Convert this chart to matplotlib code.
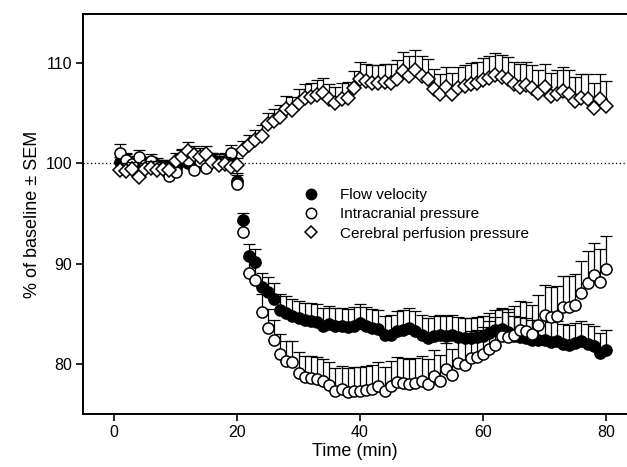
import numpy as np
import matplotlib
matplotlib.use("Agg")
import matplotlib.pyplot as plt
from matplotlib.lines import Line2D

plt.rcParams['font.family'] = ['Liberation Sans', 'DejaVu Sans']

# time points (min)
time = np.arange(1, 81)

flow = [100.1, 100.3, 99.9, 100.1, 99.7, 100.0, 99.8, 99.7, 99.6, 99.5,
        100.2, 100.0, 100.3, 100.1, 100.2, 100.4, 100.1, 100.0, 99.9, 98.2,
        94.4, 90.8, 90.2, 87.7, 87.2, 86.5, 85.4, 85.1, 84.8, 84.6,
        84.4, 84.3, 84.2, 83.8, 84.0, 83.8, 83.8, 83.7, 83.8, 84.1,
        83.8, 83.6, 83.5, 82.9, 82.9, 83.3, 83.4, 83.6, 83.3, 82.9,
        82.6, 82.8, 82.9, 82.8, 82.9, 82.7, 82.6, 82.6, 82.7, 82.8,
        83.1, 83.4, 83.5, 83.2, 82.8, 82.7, 82.6, 82.4, 82.4, 82.4,
        82.2, 82.3, 82.0, 81.9, 82.1, 82.3, 82.0, 81.8, 81.1, 81.4]
flow_err = [0.5, 0.6, 0.5, 0.6, 0.5, 0.6, 0.5, 0.6, 0.6, 0.6,
            0.7, 0.7, 0.6, 0.7, 0.6, 0.6, 0.6, 0.7, 0.7, 0.8,
            0.6, 1.2, 1.3, 1.4, 1.5, 1.6, 1.6, 1.7, 1.7, 1.7,
            1.7, 1.8, 1.8, 1.8, 1.8, 1.8, 1.8, 1.8, 1.9, 1.9,
            1.9, 1.9, 1.9, 1.9, 2.0, 2.0, 2.0, 2.0, 2.0, 2.0,
            2.0, 2.0, 2.0, 2.0, 2.0, 2.0, 2.0, 2.0, 2.0, 2.0,
            2.0, 2.0, 2.0, 2.0, 2.0, 2.0, 2.0, 2.0, 2.0, 2.0,
            2.0, 2.0, 2.0, 2.0, 2.0, 2.0, 2.0, 2.0, 2.0, 2.0]

icp = [101.0, 100.3, 99.9, 100.6, 99.8, 100.2, 99.7, 99.5, 98.7, 99.1,
       100.5, 100.3, 99.3, 100.2, 99.5, 100.2, 100.0, 100.2, 101.0, 97.9,
       93.2, 89.1, 88.4, 85.2, 83.6, 82.4, 81.0, 80.3, 80.2, 79.1,
       78.7, 78.6, 78.5, 78.3, 77.9, 77.3, 77.5, 77.2, 77.3, 77.3,
       77.4, 77.5, 77.8, 77.3, 77.8, 78.2, 78.1, 78.0, 78.1, 78.3,
       78.0, 78.8, 78.3, 79.5, 78.9, 80.1, 79.9, 80.6, 80.7, 81.0,
       81.5, 81.9, 82.8, 82.7, 82.9, 83.4, 83.3, 83.0, 83.9, 84.9,
       84.7, 84.8, 85.7, 85.7, 85.9, 87.1, 88.1, 88.9, 88.2, 89.5]
icp_err = [0.9, 0.7, 0.8, 0.7, 0.8, 0.7, 0.8, 0.8, 0.9, 0.8,
           0.8, 0.9, 0.9, 0.8, 0.9, 0.8, 0.9, 0.8, 0.8, 0.9,
           1.0, 1.5, 1.7, 1.8, 1.9, 2.0, 2.0, 2.0, 2.1, 2.1,
           2.1, 2.2, 2.2, 2.2, 2.3, 2.3, 2.3, 2.4, 2.4, 2.4,
           2.4, 2.4, 2.4, 2.4, 2.5, 2.5, 2.5, 2.5, 2.5, 2.5,
           2.5, 2.6, 2.6, 2.6, 2.6, 2.7, 2.7, 2.7, 2.7, 2.7,
           2.8, 2.8, 2.8, 2.8, 2.9, 2.9, 2.9, 2.9, 3.0, 3.0,
           3.0, 3.0, 3.1, 3.1, 3.1, 3.2, 3.2, 3.2, 3.3, 3.3]

cpp = [99.3, 99.2, 99.4, 98.6, 99.4, 99.5, 99.3, 99.4, 99.3, 100.2,
       100.6, 101.2, 100.8, 100.6, 100.9, 100.1, 99.8, 99.9, 99.6, 99.8,
       101.3, 101.8, 102.3, 102.7, 103.9, 104.2, 104.6, 105.4, 105.3, 106.0,
       106.5, 106.6, 106.8, 107.0, 106.4, 106.0, 106.4, 106.5, 107.5, 108.4,
       108.2, 108.0, 108.0, 108.1, 108.0, 108.4, 109.2, 108.7, 109.3, 108.7,
       108.4, 107.4, 106.9, 107.6, 106.9, 107.5, 107.7, 107.9, 108.0, 108.3,
       108.5, 108.8, 108.6, 108.4, 107.9, 107.6, 107.8, 107.5, 107.0, 107.6,
       106.7, 106.9, 107.2, 106.9, 106.2, 106.5, 106.4, 105.5, 106.4, 105.7]
cpp_err = [0.7, 0.6, 0.7, 0.7, 0.6, 0.7, 0.6, 0.7, 0.7, 0.8,
           0.8, 0.9, 0.9, 0.9, 0.8, 0.8, 0.8, 0.7, 0.8, 0.7,
           0.9, 1.0, 1.0, 1.1, 1.1, 1.2, 1.2, 1.3, 1.3, 1.4,
           1.4, 1.4, 1.5, 1.5, 1.5, 1.6, 1.6, 1.6, 1.7, 1.7,
           1.7, 1.8, 1.8, 1.8, 1.9, 1.9, 1.9, 2.0, 2.0, 2.0,
           2.0, 2.0, 2.0, 2.0, 2.1, 2.1, 2.1, 2.1, 2.1, 2.2,
           2.2, 2.2, 2.2, 2.2, 2.2, 2.3, 2.3, 2.3, 2.3, 2.3,
           2.3, 2.4, 2.4, 2.4, 2.4, 2.4, 2.5, 2.5, 2.5, 2.5]

labels = ['Flow velocity', 'Intracranial pressure', 'Cerebral perfusion pressure']

fig = plt.figure(figsize=(6.27, 4.67), dpi=100)
ax = fig.add_axes([83 / 627, 53 / 467, 544 / 627, 400 / 467])

ax.axhline(100, color='black', lw=0.9, ls=(0, (1, 2)), zorder=1)

series = [
    (flow, flow_err, 'o', 'black', 8.0, 3),
    (icp, icp_err, 'o', 'white', 8.0, 5),
    (cpp, cpp_err, 'D', 'white', 6.8, 7),
]
for vals, err, mk, fc, ms, z in series:
    vals = np.array(vals)
    err = np.array(err)
    ax.errorbar(time, vals, yerr=[np.zeros_like(err), err], fmt='none',
                ecolor='black', elinewidth=0.9, capsize=4, capthick=0.9,
                zorder=z)
    ax.plot(time, vals, ls='none', marker=mk, ms=ms, mfc=fc, mec='black',
            mew=1.1, zorder=z + 1)

handles = [
    Line2D([], [], ls='none', marker='o', ms=7.5, mfc='black', mec='black'),
    Line2D([], [], ls='none', marker='o', ms=7.5, mfc='white', mec='black', mew=1.1),
    Line2D([], [], ls='none', marker='D', ms=6.5, mfc='white', mec='black', mew=1.1),
]
ax.legend(handles, labels, loc='upper left', bbox_to_anchor=(0.405, 0.565),
          frameon=False, fontsize=11, handlelength=1.0, handletextpad=1.4,
          labelspacing=0.35, borderpad=0, borderaxespad=0)

ax.set_xlim(-5.04, 83.4)
ax.set_ylim(75.0, 114.9)
ax.set_xticks([0, 20, 40, 60, 80])
ax.set_yticks([80, 90, 100, 110])
ax.tick_params(direction='out', length=5, width=1.2, labelsize=11.5, pad=3)
for s in ['left', 'bottom', 'top']:
    ax.spines[s].set_linewidth(1.4)
ax.spines['right'].set_visible(False)

ax.set_xlabel('Time (min)', fontsize=13, labelpad=2)
ax.set_ylabel('% of baseline \u00b1 SEM', fontsize=13, labelpad=3)

fig.savefig('out.png', dpi=100)
